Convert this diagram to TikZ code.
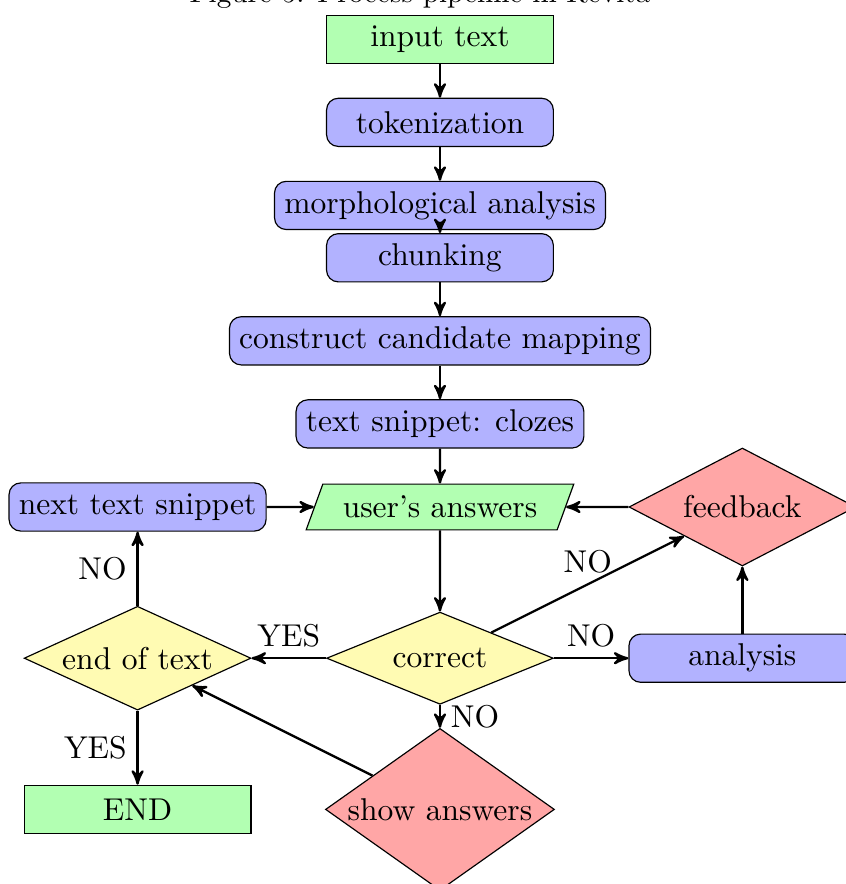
\documentclass[tikz,border=0pt]{standalone}
\usepackage{amsmath}
\usepackage{xcolor}
\usepackage{tikz}
\usetikzlibrary{arrows,shapes.geometric,positioning}

\begin{document}
\begin{tikzpicture}[node distance = 1cm,>=stealth',font=\fontsize{10.8}{13}\selectfont,
  process/.style={rectangle,rounded corners,draw=black,fill=blue!30,minimum width=2.73cm,minimum height=0.58cm},
  term/.style={rectangle,draw=black,fill=green!30,minimum width=2.73cm,minimum height=0.58cm},
  io/.style={trapezium,trapezium left angle=70,trapezium right angle=110,draw=black,fill=green!30,minimum height=0.55cm},
  decide/.style={diamond,aspect=2,inner sep=0pt,draw=black,minimum width=2.73cm}]
\useasboundingbox (-5.296,-4.538) rectangle (4.887,6.103);

\node[anchor=base,font=\normalsize] (title) at (-0.24,6.07) {Figure 5: Process pipeline in Revita};

\node[term] (input) at (0,5.63) {input text};
\node[process] (token) [below of = input] {tokenization};
\node[process] (morph) [below of = token] {morphological analysis};
\node[process] (chunk) [below of = morph, node distance=0.63cm] {chunking};
\node[process] (cand) [below of = chunk] {construct candidate mapping};
\node[process] (snippet) [below of = cand] {text snippet: clozes};
\node[io] (answers) [below of = snippet] {user's answers};

\node[decide,fill=yellow!30,minimum height=1.11cm] (correct) [below of = answers, node distance=1.82cm] {correct};
\node[decide,fill=yellow!30,minimum height=1.25cm] (eot) [left of = correct, node distance=3.64cm] {end of text};
\node[process] (analysis) [right of = correct, node distance=3.64cm] {analysis};
\node[decide,fill=red!35,minimum height=1.42cm] (feedback) [above of = analysis, node distance=1.82cm] {feedback};
\node[process] (next) [above of = eot, node distance=1.82cm] {next text snippet};
\node[decide,fill=red!35,minimum height=1.95cm] (show) [below of = correct, node distance=1.82cm] {show answers};
\node[term] (end) [below of = eot, node distance=1.82cm] {END};

\begin{scope}[thick]
\path (input) edge [->] (token);
\path (token) edge [->] (morph);
\path (morph) edge [->] (chunk);
\path (chunk) edge [->] (cand);
\path (cand) edge [->] (snippet);
\path (snippet) edge [->] (answers);
\path (answers) edge [->] (correct);
\path (next) edge [->] (answers);
\path (feedback) edge [->] (answers);
\path (correct) edge [->] node[above] {YES} (eot);
\path (correct) edge [->] node[above] {NO} (analysis);
\path (correct) edge [->] node[above] {NO} (feedback);
\path (correct) edge [->] node[right] {NO} (show);
\path (analysis) edge [->] (feedback);
\path (show) edge [->] (eot);
\path (eot) edge [->] node[left] {NO} (next);
\path (eot) edge [->] node[left] {YES} (end);
\end{scope}

\end{tikzpicture}
\end{document}
